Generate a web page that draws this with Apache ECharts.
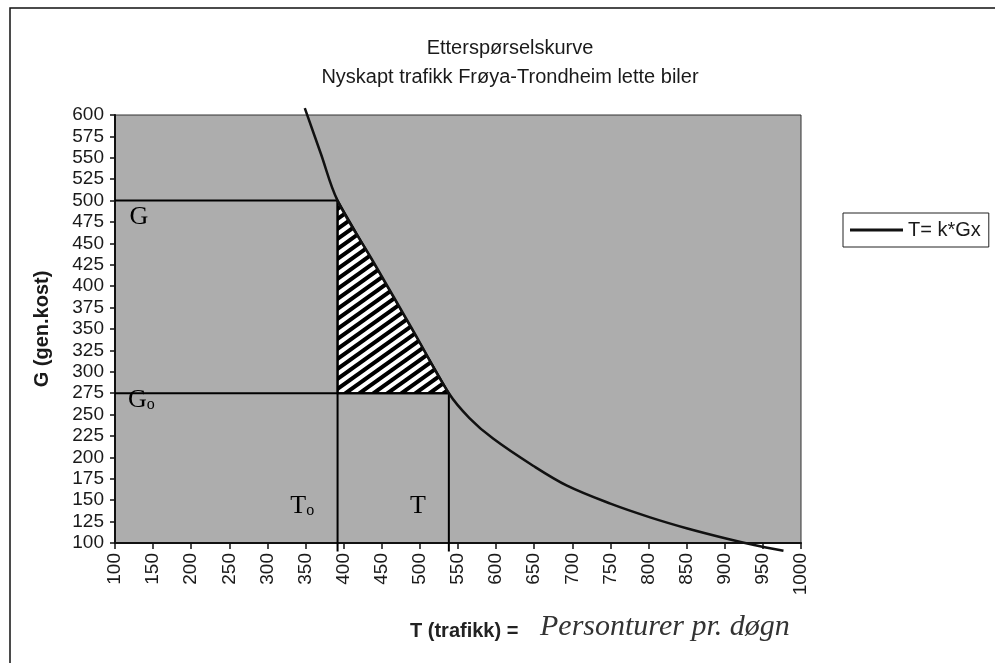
<!DOCTYPE html>
<html>
<head>
<meta charset="utf-8">
<script src="https://cdn.jsdelivr.net/npm/echarts@6/dist/echarts.min.js"></script>
<style>
  html, body { margin: 0; padding: 0; background: #fff; }
  #chart { width: 995px; height: 663px; }
</style>
</head>
<body>
<div id="chart"></div>
<script>
// etterspørselskurve, T = k*G^x (lest av bildet)
const curveT = [349, 370, 392, 440, 490, 538, 565, 596, 649, 693, 750, 802, 851, 903, 937, 977];
const curveG = [608, 555, 500, 427, 350, 275, 246, 222, 190, 167, 146, 130, 117, 105, 98, 91];

// hjelpelinjer ved G og Go
const upperLineT = [100, 392, 392];
const upperLineG = [500, 500, 90];
const lowerLineT = [100, 538, 538];
const lowerLineG = [275, 275, 90];

// skravert trekant
const hatchT = [392, 392, 538];
const hatchG = [500, 275, 275];

// tekstmerker i plottet
const markText = ['G', 'G{s|o}', 'T{s|o}', 'T'];
const markT = [119, 117, 330, 487];
const markG = [481, 267, 143, 143];

const xTicks = { min: 100, max: 1000, interval: 50 };
const yTicks = { min: 100, max: 600, interval: 25 };

// skraveringsmønster
const hatch = document.createElement('canvas');
const hw = 14, hh = 10;
hatch.width = hw; hatch.height = hh;
const hc = hatch.getContext('2d');
hc.fillStyle = '#fff';
hc.fillRect(0, 0, hw, hh);
hc.strokeStyle = '#000';
hc.lineWidth = 4;
hc.beginPath();
hc.moveTo(0, hh); hc.lineTo(hw, 0);
hc.moveTo(-hw, hh); hc.lineTo(hw, -hh);
hc.moveTo(0, 2 * hh); hc.lineTo(2 * hw, 0);
hc.stroke();

const chart = echarts.init(document.getElementById('chart'));
const sans = '"Liberation Sans", Arial, sans-serif';
const serif = '"Liberation Serif", "Times New Roman", serif';

chart.setOption({
    animation: false,
    backgroundColor: '#fff',
    title: {
        text: 'Etterspørselskurve\nNyskapt trafikk Frøya-Trondheim lette biler',
        left: 505,
        textAlign: 'center',
        top: 29,
        textStyle: { fontFamily: sans, fontSize: 20, fontWeight: 'normal', color: '#1a1a1a', lineHeight: 29 }
    },
    legend: {
        data: ['T= k*Gx'],
        left: 843,
        top: 213,
        orient: 'vertical',
        borderColor: '#222',
        borderWidth: 1,
        padding: [7, 8, 7, 7],
        icon: 'rect',
        itemWidth: 53,
        itemHeight: 3,
        itemStyle: { color: '#111' },
        textStyle: { fontFamily: sans, fontSize: 20, color: '#1a1a1a' }
    },
    grid: {
        left: 115,
        right: 194,
        top: 115,
        bottom: 120,
        show: true,
        backgroundColor: '#adadad',
        borderColor: '#333',
        borderWidth: 1
    },
    xAxis: {
        type: 'value',
        min: xTicks.min,
        max: xTicks.max,
        interval: xTicks.interval,
        axisLine: { lineStyle: { color: '#111', width: 2 } },
        axisTick: { length: 6, lineStyle: { color: '#111', width: 1.5 } },
        axisLabel: {
            rotate: 90, margin: 10, fontFamily: sans, fontSize: 19, color: '#1a1a1a',
            showMinLabel: true, showMaxLabel: true,
            formatter: v => String(v)
        },
        splitLine: { show: false }
    },
    yAxis: {
        type: 'value',
        min: yTicks.min,
        max: yTicks.max,
        interval: yTicks.interval,
        name: 'G (gen.kost)',
        nameLocation: 'middle',
        nameGap: 63,
        nameTextStyle: { fontFamily: sans, fontSize: 20, fontWeight: 'bold', color: '#1a1a1a' },
        axisLine: { show: true, lineStyle: { color: '#111', width: 2 } },
        axisTick: { show: true, length: 5, lineStyle: { color: '#111', width: 1.5 } },
        axisLabel: { margin: 11, fontFamily: sans, fontSize: 19, color: '#1a1a1a', showMinLabel: true, showMaxLabel: true },
        splitLine: { show: false }
    },
    graphic: [
        {
            type: 'rect', silent: true, z: 100,
            shape: { x: 10, y: 8, width: 1100, height: 800 },
            style: { fill: null, stroke: '#111', lineWidth: 1.5 }
        },
        {
            type: 'text', left: 410, top: 621,
            style: { text: 'T (trafikk) =', font: 'bold 20px ' + sans, fill: '#222' }
        },
        {
            type: 'text', left: 540, top: 612,
            style: { text: 'Personturer pr. døgn', font: 'italic 30px ' + serif, fill: '#333' }
        }
    ],
    series: [
        {
            name: 'hatch',
            type: 'custom',
            data: [[hatchT[0], hatchG[0]]],
            renderItem: function (params, api) {
                const pts = hatchT.map((t, i) => api.coord([t, hatchG[i]]));
                return {
                    type: 'polygon',
                    shape: { points: pts },
                    style: { fill: { type: 'pattern', image: hatch, repeat: 'repeat' }, stroke: '#000', lineWidth: 2 }
                };
            },
            z: 2
        },
        {
            name: 'G-linje',
            type: 'line',
            data: upperLineT.map((t, i) => [t, upperLineG[i]]),
            symbol: 'none',
            clip: false,
            lineStyle: { color: '#000', width: 2 },
            z: 3
        },
        {
            name: 'Go-linje',
            type: 'line',
            data: lowerLineT.map((t, i) => [t, lowerLineG[i]]),
            symbol: 'none',
            clip: false,
            lineStyle: { color: '#000', width: 2 },
            z: 3
        },
        {
            name: 'T= k*Gx',
            type: 'line',
            data: curveT.map((t, i) => [t, curveG[i]]),
            symbol: 'none',
            smooth: 0.35,
            clip: false,
            color: '#111',
            lineStyle: { color: '#111', width: 2.5 },
            z: 4
        },
        {
            name: 'merker',
            type: 'scatter',
            data: markT.map((t, i) => [t, markG[i]]),
            symbolSize: 1,
            itemStyle: { color: 'rgba(0,0,0,0)', opacity: 1 },
            label: {
                show: true,
                position: 'inside',
                align: 'left',
                verticalAlign: 'middle',
                opacity: 1,
                formatter: p => markText[p.dataIndex],
                fontFamily: serif,
                fontSize: 26,
                color: '#000',
                rich: {
                    s: { fontFamily: serif, fontSize: 16, color: '#000', verticalAlign: 'bottom' }
                }
            },
            z: 5
        }
    ]
});
</script>
</body>
</html>
